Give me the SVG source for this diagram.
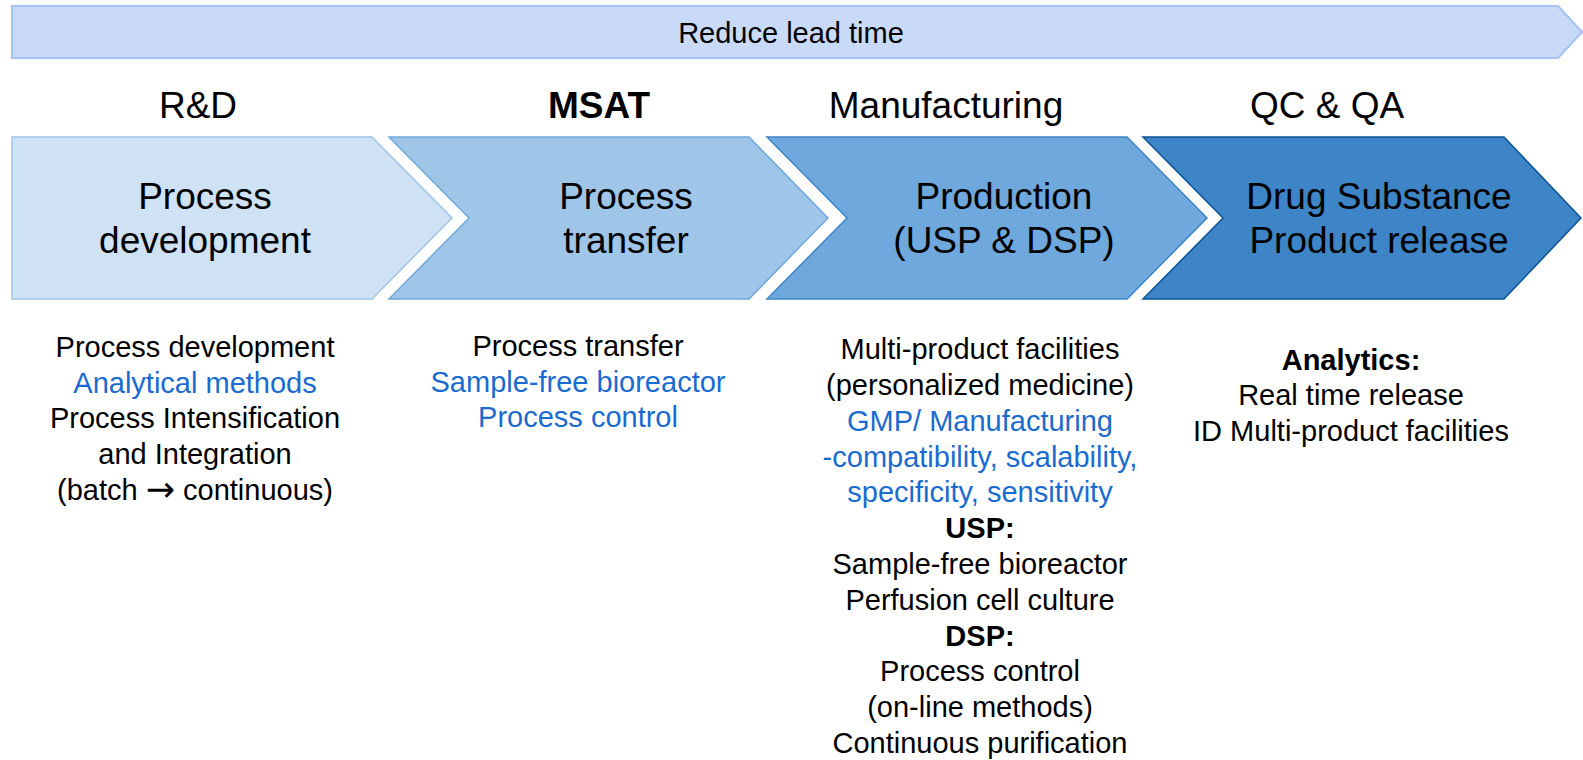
<svg xmlns="http://www.w3.org/2000/svg" width="1583" height="760" viewBox="0 0 1583 760">
<style>
text{font-family:"Liberation Sans",Arial,sans-serif;fill:#000;text-anchor:middle}
.hdr{font-size:37px}
.chev{font-size:37px}
.lst{font-size:29px}
.b{font-weight:bold}
.blue{fill:#1a6bd0}
.arr{font-family:"DejaVu Sans",sans-serif;font-size:35px}
.c1{fill:#cfe2f3;stroke:#9fc5e8;stroke-width:1.5}
.c2{fill:#9fc5e8;stroke:#6fa8dc;stroke-width:1.5}
.c3{fill:#6fa8dc;stroke:#3d85c6;stroke-width:1.5}
.c4{fill:#3d85c6;stroke:#0b5394;stroke-width:1.5}
.top{fill:#c9daf8;stroke:#a4c2f4;stroke-width:2}
</style>
<rect width="1583" height="760" fill="#fff"/>
<g id="lead-time-arrow">
<polygon class="top" points="12,6 1558,6 1582,32 1558,58 12,58"/>
<text x="791" y="43" style="font-size:29px">Reduce lead time</text>
</g>
<g id="headers">
<text class="hdr" x="198" y="118">R&amp;D</text>
<text class="hdr b" x="599" y="118">MSAT</text>
<text class="hdr" x="946" y="118">Manufacturing</text>
<text class="hdr" x="1327" y="118">QC &amp; QA</text>
</g>
<g id="node-process-development">
<polygon class="c1" points="12,137 372,137 452,218 372,299 12,299"/>
<text class="chev" x="205" y="209">Process</text>
<text class="chev" x="205" y="253">development</text>
</g>
<g id="node-process-transfer">
<polygon class="c2" points="389,137 749,137 828,218 749,299 389,299 469,218"/>
<text class="chev" x="626" y="209">Process</text>
<text class="chev" x="626" y="253">transfer</text>
</g>
<g id="node-production">
<polygon class="c3" points="767,137 1127,137 1207,218 1127,299 767,299 847,218"/>
<text class="chev" x="1004" y="209">Production</text>
<text class="chev" x="1004" y="253">(USP &amp; DSP)</text>
</g>
<g id="node-release">
<polygon class="c4" points="1143,137 1504,137 1581,218 1504,299 1143,299 1223,218"/>
<text class="chev" x="1379" y="209">Drug Substance</text>
<text class="chev" x="1379" y="253">Product release</text>
</g>
<g id="connectors"/>
<g id="list-rd">
<text class="lst" x="195" y="357">Process development</text>
<text class="lst blue" x="195" y="393">Analytical methods</text>
<text class="lst" x="195" y="428">Process Intensification</text>
<text class="lst" x="195" y="464">and Integration</text>
<text class="lst" x="195" y="500">(batch <tspan class="arr" dy="1">→</tspan><tspan dy="-1"> continuous)</tspan></text>
</g>
<g id="list-msat">
<text class="lst" x="578" y="356">Process transfer</text>
<text class="lst blue" x="578" y="392">Sample-free bioreactor</text>
<text class="lst blue" x="578" y="427">Process control</text>
</g>
<g id="list-manufacturing">
<text class="lst" x="980" y="359">Multi-product facilities</text>
<text class="lst" x="980" y="395">(personalized medicine)</text>
<text class="lst blue" x="980" y="431">GMP/ Manufacturing</text>
<text class="lst blue" x="980" y="467">-compatibility, scalability,</text>
<text class="lst blue" x="980" y="502">specificity, sensitivity</text>
<text class="lst b" x="980" y="538">USP:</text>
<text class="lst" x="980" y="574">Sample-free bioreactor</text>
<text class="lst" x="980" y="610">Perfusion cell culture</text>
<text class="lst b" x="980" y="646">DSP:</text>
<text class="lst" x="980" y="681">Process control</text>
<text class="lst" x="980" y="717">(on-line methods)</text>
<text class="lst" x="980" y="753">Continuous purification</text>
</g>
<g id="list-qcqa">
<text class="lst b" x="1351" y="370">Analytics:</text>
<text class="lst" x="1351" y="405">Real time release</text>
<text class="lst" x="1351" y="441">ID Multi-product facilities</text>
</g>
</svg>
